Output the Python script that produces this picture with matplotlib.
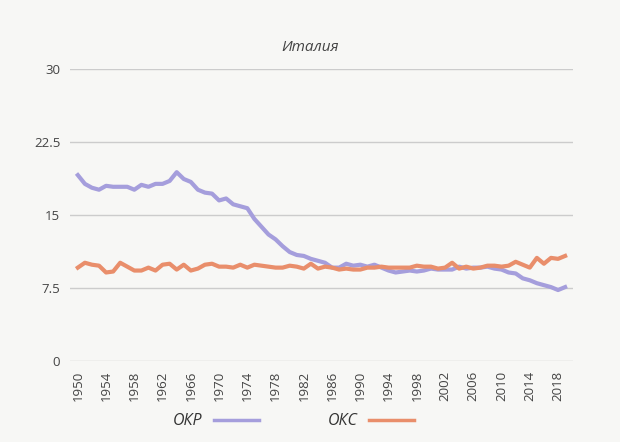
import matplotlib.pyplot as plt

years = list(range(1950, 2020))

# crude birth rate (ОКР) and crude death rate (ОКС), per 1000
birth_rate = [19.1, 18.2, 17.8, 17.6, 18.0, 17.9, 17.9, 17.9, 17.6, 18.1,
              17.9, 18.2, 18.2, 18.5, 19.4, 18.7, 18.4, 17.6, 17.3, 17.2,
              16.5, 16.7, 16.1, 15.9, 15.7, 14.6, 13.8, 13.0, 12.5, 11.8,
              11.2, 10.9, 10.8, 10.5, 10.3, 10.1, 9.6, 9.6, 10.0, 9.8,
              9.9, 9.7, 9.9, 9.6, 9.3, 9.1, 9.2, 9.3, 9.2, 9.3,
              9.5, 9.4, 9.4, 9.4, 9.7, 9.5, 9.6, 9.6, 9.7, 9.5,
              9.4, 9.1, 9.0, 8.5, 8.3, 8.0, 7.8, 7.6, 7.3, 7.6]
death_rate = [9.6, 10.1, 9.9, 9.8, 9.1, 9.2, 10.1, 9.7, 9.3, 9.3,
              9.6, 9.3, 9.9, 10.0, 9.4, 9.9, 9.3, 9.5, 9.9, 10.0,
              9.7, 9.7, 9.6, 9.9, 9.6, 9.9, 9.8, 9.7, 9.6, 9.6,
              9.8, 9.7, 9.5, 10.0, 9.5, 9.7, 9.6, 9.4, 9.5, 9.4,
              9.4, 9.6, 9.6, 9.7, 9.6, 9.6, 9.6, 9.6, 9.8, 9.7,
              9.7, 9.5, 9.6, 10.1, 9.5, 9.7, 9.5, 9.6, 9.8, 9.8,
              9.7, 9.8, 10.2, 9.9, 9.6, 10.6, 10.0, 10.6, 10.5, 10.8]

xtick_years = list(range(1950, 2019, 4))
yticks = [0, 7.5, 15, 22.5, 30]
ytick_labels = ["0", "7.5", "15", "22.5", "30"]

bg = "#f7f7f5"
purple = "#a59edc"
orange = "#e98e6b"

plt.rcParams["font.family"] = ["Open Sans", "DejaVu Sans"]

fig = plt.figure(figsize=(6.2, 4.42), dpi=100, facecolor=bg)
ax = fig.add_axes([0.113, 0.183, 0.811, 0.661], facecolor=bg)

ax.plot(years, birth_rate, color=purple, linewidth=3, label="ОКР")
ax.plot(years, death_rate, color=orange, linewidth=3, label="ОКС")

ax.set_xlim(1948.9, 2020.1)
ax.set_ylim(0, 30)
ax.set_yticks(yticks)
ax.set_yticklabels(ytick_labels)
ax.set_xticks(xtick_years)
ax.set_xticklabels([str(y) for y in xtick_years], rotation=90)
ax.tick_params(length=0, colors="#444444", labelsize=9.5)
ax.tick_params(axis="y", pad=7)
ax.tick_params(axis="x", pad=7)

ax.grid(axis="y", color="#cccccc", linewidth=1)
ax.set_axisbelow(True)
for side in ["top", "right", "left", "bottom"]:
    ax.spines[side].set_visible(False)

fig.text(0.5, 0.893, "Италия", ha="center", va="center", fontsize=11,
         style="italic", color="#444444")

leg = fig.legend(loc="center", bbox_to_anchor=(0.473, 0.047), ncol=2, frameon=False,
                 markerfirst=False, handlelength=2.8, handletextpad=0.75,
                 columnspacing=4.3, prop={"size": 11.5, "style": "italic"},
                 labelcolor="#333333")
for line in leg.get_lines():
    line.set_linewidth(2.5)

fig.savefig("out.png", dpi=100, facecolor=bg)
